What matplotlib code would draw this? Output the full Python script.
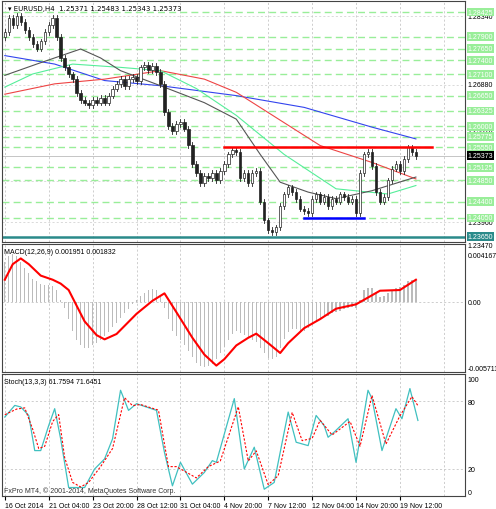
import matplotlib
matplotlib.use("Agg")
import matplotlib.pyplot as plt
import matplotlib.transforms as mtransforms
import numpy as np

W, H = 496, 510

closes = [1.2800, 1.2830, 1.2815, 1.2835, 1.2822, 1.2805,
          1.2790, 1.2775, 1.2765,
          1.2780, 1.2800, 1.2815, 1.2830,
          1.2790, 1.2745, 1.2725, 1.2710, 1.2700,
          1.2670, 1.2655, 1.2650, 1.2645,
          1.2655, 1.2650, 1.2660, 1.2650, 1.2665, 1.2680,
          1.2690, 1.2700, 1.2685, 1.2700, 1.2705, 1.2695,
          1.2725, 1.2730, 1.2720, 1.2728, 1.2715, 1.2690,
          1.2630, 1.2600, 1.2590,
          1.2605, 1.2610, 1.2595,
          1.2560, 1.2520, 1.2500,
          1.2480, 1.2495, 1.2490, 1.2500, 1.2485,
          1.2505, 1.2520, 1.2540, 1.2550, 1.2545,
          1.2490, 1.2500, 1.2480, 1.2500, 1.2505,
          1.2440, 1.2400, 1.2380, 1.2375, 1.2385,
          1.2430, 1.2455, 1.2470, 1.2460,
          1.2445, 1.2425, 1.2420, 1.2415,
          1.2445, 1.2455, 1.2440, 1.2450, 1.2430, 1.2445, 1.2440, 1.2455, 1.2450, 1.2440, 1.2445, 1.2415,
          1.2500, 1.2540, 1.2545, 1.2515,
          1.2460, 1.2440,
          1.2450, 1.2485, 1.2510, 1.2520, 1.2505, 1.2530,
          1.2555, 1.2545, 1.25373]
first_open = 1.2790
wick = 0.0006

ma_blue = [(0, 1.2750), (12.5, 1.2732), (25, 1.2697), (39, 1.2686), (58, 1.2665), (75, 1.2640), (92, 1.2598), (103, 1.2573)]
ma_red = [(0, 1.2668), (12.5, 1.2690), (25, 1.2700), (39, 1.2718), (50, 1.2700), (58, 1.2672), (79, 1.2559), (92, 1.2523), (103, 1.2488)]
ma_green = [(0, 1.2683), (7, 1.2711), (17, 1.2732), (29, 1.2725), (39, 1.2718), (48, 1.2680), (58, 1.2623), (70, 1.2540), (83, 1.2467), (96, 1.2456), (103, 1.2474)]
ma_gray = [(0, 1.2708), (8, 1.2732), (19, 1.2764), (24, 1.2745), (29, 1.2718), (39, 1.2686), (50, 1.2650), (58, 1.2615), (64, 1.2540), (69, 1.2481), (76, 1.2460), (83, 1.2446), (92, 1.2463), (103, 1.2492)]

level_labels = [1.28425, 1.27900, 1.27650, 1.27400, 1.27100, 1.26650, 1.26325, 1.26000,
                1.25775, 1.25550, 1.25125, 1.24850, 1.24400, 1.24050]
price_ticks = [1.28340, 1.26880, 1.25910, 1.24830, 1.23960, 1.23470]
resist = 1.2555
support = 1.2405
floor_level = 1.2365
last_price = 1.25373

macd_hist = [3.5, 4.0, 4.2, 4.0, 3.5, 3.0, 2.5, 2.0, 1.8, 1.6, 1.5,
             1.5, 1.4, 1.0, 0.2, -0.5, -1.5,
             -2.5, -3.3, -3.8, -4.0, -4.0, -3.8, -3.6, -3.3, -3.0,
             -2.6, -2.2, -1.8, -1.4, -1.0, -0.6, -0.2, 0.2,
             0.5, 0.8, 1.0, 1.1, 1.0, 0.4,
             -0.5, -1.5, -2.5, -3.0, -3.3, -3.8,
             -4.3, -4.8, -5.3, -5.6, -5.7, -5.6, -5.4, -5.0,
             -4.5, -3.9, -3.3, -2.8, -2.5,
             -2.7, -2.9, -3.1, -3.3, -3.5,
             -4.0, -4.5, -4.9, -5.0, -4.8,
             -4.0, -3.2, -2.6, -2.4,
             -2.4, -2.5, -2.5, -2.3,
             -2.0, -1.7, -1.5, -1.3, -1.2, -1.0, -0.9, -0.8, -0.6, -0.5, -0.4, -0.5,
             0.2, 1.0, 1.2, 1.2,
             0.8, 0.4,
             0.5, 0.8, 1.0, 1.2, 1.3, 1.5,
             1.8, 1.9, 1.95]
macd_signal = [(0, 1.94), (2, 3.3), (4, 3.8), (6, 3.3), (9, 2.3), (12, 1.94), (14, 1.6), (16, 1.04),
               (20, -1.7), (23, -2.9), (25, -3.27), (28, -2.8), (33, -1.04), (37, 0.1), (40, 0.75),
               (43, -0.9), (47, -3.13), (50, -4.6), (53, -5.56), (55, -5.0), (58, -3.8), (61, -3.13),
               (63, -2.77), (66, -3.6), (69, -4.46), (71, -3.6), (75, -2.29), (79, -1.5), (83, -0.59),
               (88, -0.21), (94, 0.98), (99, 1.04), (103, 1.94)]

stoch_main = [(0, 65.9), (2.5, 76.2), (4, 74.8), (6, 67.3), (7.5, 36.2), (9, 36.2), (11, 58.4), (12.5, 73.3),
              (14, 46.6), (16, 3.5), (17.5, 3.5), (20, 3.5), (22.5, 19.9), (25, 28.8), (27, 46.6),
              (29, 89.6), (31, 71.8), (33, 77.7), (38, 71.8), (40, 34.7), (42, 5.0), (44, 25.8),
              (47, 6.5), (50, 16.9), (52, 27.3), (53, 25.8), (57.5, 82.2), (60, 19.9), (62.5, 39.2),
              (65, 2.0), (67.5, 8.0), (71, 70.3), (73, 43.6), (76, 40.6), (78, 67.3), (80, 58.4),
              (81, 48.0), (82.5, 52.5), (86, 64.4), (88, 25.8), (91, 89.6), (92, 82.2), (94.5, 36.2),
              (98, 73.3), (99.5, 64.4), (101.5, 91.1), (103.5, 62.9)]
stoch_signal = [(0, 68.0), (3, 73.0), (5, 74.0), (7, 55.0), (8.5, 38.0), (10, 40.0), (12, 62.0), (13.5, 68.0),
                (15, 30.0), (17, 8.0), (19, 4.0), (21, 8.0), (24, 22.0), (27, 38.0), (30, 83.0),
                (32, 76.0), (34, 77.0), (38.5, 72.0), (41, 22.0), (43, 22.0), (45, 18.0), (48, 12.0),
                (51, 22.0), (54, 27.0), (58.5, 75.0), (61, 27.0), (63, 36.0), (66, 6.0), (68.5, 14.0),
                (72, 70.0), (74.5, 45.0), (77, 47.0), (79, 63.0), (82, 50.0), (86.5, 62.0), (89, 40.0),
                (92, 85.0), (95.5, 42.0), (99, 67.0), (102, 84.0), (103.5, 76.0)]
stoch_title = "Stoch(13,3,3) 61.7594 71.6451"
macd_title = "MACD(12,26,9) 0.001951 0.001832"
price_title = "EURUSD,H4  1.25371 1.25483 1.25343 1.25373"

date_labels = ["16 Oct 2014", "21 Oct 04:00", "23 Oct 20:00", "28 Oct 12:00", "31 Oct 04:00",
               "4 Nov 20:00", "7 Nov 12:00", "12 Nov 04:00", "14 Nov 20:00", "19 Nov 12:00"]
date_step = 11

FS = 5.0
plt.rcParams["font.family"] = ["Liberation Sans", "DejaVu Sans"]
plt.rcParams["font.size"] = FS
fig = plt.figure(figsize=(W / 100, H / 100), dpi=100)


def box(top, bottom, left=2, right=465):
    return [left / W, 1 - bottom / H, (right - left) / W, (bottom - top) / H]


ax = fig.add_axes(box(2, 243))
axm = fig.add_axes(box(245, 373), sharex=ax)
axs = fig.add_axes(box(375, 497), sharex=ax)

n = len(closes)
xs = np.arange(n)
xlim = (-0.7, 115.3)
grid_x = np.arange(0, 116, date_step)

for a in (ax, axm, axs):
    for sp in a.spines.values():
        sp.set_color("#444444")
        sp.set_linewidth(0.8)
    a.yaxis.tick_right()
    a.tick_params(length=0, labelsize=FS, pad=2)
    for gx in grid_x:
        a.axvline(gx, color="#bbbbbb", lw=0.5, ls=(0, (3, 3)), zorder=0)
ax.set_xlim(*xlim)

# main price panel
ylo, yhi = 1.2354, 1.2866
ax.set_ylim(ylo, yhi)
for lv in level_labels:
    ax.axhline(lv, color="#99ee99", lw=1.0, ls=(0, (5, 3)), zorder=1)
for lv in price_ticks:
    ax.axhline(lv, color="#cccccc", lw=0.5, ls=(0, (3, 3)), zorder=0)
ax.axhline(last_price, color="#bbbbbb", lw=0.6, zorder=1)
ax.axhline(floor_level, color="#2a8a8a", lw=1.8, zorder=2)
ax.plot([55, 107], [resist, resist], color="red", lw=1.8, zorder=5)
ax.plot([75, 90], [support, support], color="blue", lw=1.8, zorder=5)

for pts, col in ((ma_blue, "#3344ee"), (ma_red, "#ee4444"), (ma_green, "#55ee99"), (ma_gray, "#555555")):
    px, py = zip(*pts)
    ax.plot(px, py, color=col, lw=0.8, zorder=3)

opens = [first_open] + closes[:-1]
for i in range(n):
    o, c = opens[i], closes[i]
    hi, lo = max(o, c) + wick, min(o, c) - wick
    ax.plot([i, i], [lo, hi], color="#222222", lw=0.6, zorder=4)
    ax.bar(i, abs(c - o) or 0.00005, bottom=min(o, c), width=0.6,
           color="white" if c >= o else "#222222", edgecolor="#222222", linewidth=0.5, zorder=4)

ax.set_yticks([])
trans = mtransforms.blended_transform_factory(ax.transAxes, ax.transData)
for lv in price_ticks:
    ax.text(1.006, lv, f"{lv:.5f}", transform=trans, va="center", ha="left", fontsize=FS)
for lv in level_labels:
    ax.text(1.006, lv, f"{lv:.5f}", transform=trans, va="center", ha="left", fontsize=FS,
            color="white", bbox=dict(boxstyle="square,pad=0.12", fc="#99ee99", ec="none"))
ax.text(1.006, floor_level, f"{floor_level:.5f}", transform=trans, va="center", ha="left", fontsize=FS,
        color="white", bbox=dict(boxstyle="square,pad=0.12", fc="#2a8a8a", ec="none"))
ax.text(1.006, last_price, f"{last_price:.5f}", transform=trans, va="center", ha="left", fontsize=FS,
        color="white", bbox=dict(boxstyle="square,pad=0.12", fc="black", ec="none"))
ax.text(0.012, 0.985, "\u25be " + price_title, transform=ax.transAxes, va="top", ha="left", fontsize=FS,
        family=["DejaVu Sans"])

# MACD panel
axm.bar(xs, np.array(macd_hist) / 1000, width=0.3, color="#bbbbbb", zorder=2)
px, py = zip(*macd_signal)
axm.plot(px, np.array(py) / 1000, color="red", lw=1.5, zorder=3)
axm.axhline(0, color="#bbbbbb", lw=0.5, ls=(0, (3, 3)), zorder=0)
axm.set_ylim(-0.00612, 0.00506)
axm.set_yticks([0.004167, 0.0, -0.005711])
axm.set_yticklabels(["0.004167", "0.00", "-0.005711"])
axm.text(0.005, 0.965, macd_title, transform=axm.transAxes, va="top", ha="left", fontsize=FS)

# Stochastic panel
px, py = zip(*stoch_main)
axs.plot(px, py, color="#40c0c0", lw=0.9, zorder=3)
px, py = zip(*stoch_signal)
axs.plot(px, py, color="red", lw=0.8, ls=(0, (2, 1.5)), zorder=3)
for lv in (20, 80):
    axs.axhline(lv, color="#bbbbbb", lw=0.5, ls=(0, (3, 3)), zorder=0)
axs.set_ylim(-4, 104)
axs.set_yticks([100, 80, 20, 0])
axs.text(0.005, 0.965, stoch_title, transform=axs.transAxes, va="top", ha="left", fontsize=FS)
axs.text(0.005, 0.02, "FxPro MT4, \u00a9 2001-2014, MetaQuotes Software Corp.", transform=axs.transAxes,
         va="bottom", ha="left", fontsize=FS, color="#333333")

for a in (ax, axm):
    a.tick_params(labelbottom=False)
axs.set_xticks(grid_x[:len(date_labels)])
axs.set_xticklabels(date_labels, ha="left")
axs.tick_params(axis="x", length=3, pad=1)

fig.savefig("out.png", dpi=100, facecolor="white")
